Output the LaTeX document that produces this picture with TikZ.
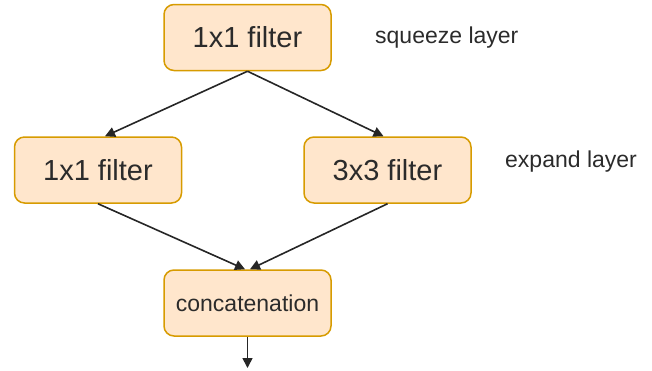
\documentclass[tikz,border=0pt]{standalone}
\usepackage{fontspec}
\setmainfont{Liberation Sans}
\usetikzlibrary{arrows.meta}
\definecolor{boxfill}{HTML}{FFE6CC}
\definecolor{boxline}{HTML}{D79B00}
\definecolor{txt}{HTML}{2B2B2B}
\tikzset{
  filterbox/.style={draw=boxline, fill=boxfill, line width=1.5pt, rounded corners=10pt,
    minimum width=167pt, minimum height=66pt, inner sep=0pt, text=txt,
    font=\fontsize{29}{33}\selectfont},
  smallbox/.style={filterbox, font=\fontsize{23}{27}\selectfont},
  layerlabel/.style={text=txt, font=\fontsize{23}{27}\selectfont, inner sep=0pt, anchor=west},
  conn/.style={line width=1.6pt, draw=black!85, -{Triangle[length=10pt,width=10pt]}}
}
\begin{document}
\begin{tikzpicture}[x=1pt,y=-1pt]
\useasboundingbox (0,0) rectangle (652,370);
\node[filterbox] (sq) at (247.5,37.5) {1x1 filter};
\node[filterbox] (e1) at (98,170) {1x1 filter};
\node[filterbox] (e3) at (387.5,170) {3x3 filter};
\node[smallbox] (cc) at (247.5,303) {concatenation};
\coordinate (out) at (247.5,368);
\node[layerlabel] (sql) at (375,38) {squeeze layer};
\node[layerlabel] (exl) at (505,162) {expand layer};
\draw[conn] (sq.south) -- ([xshift=7pt]e1.north);
\draw[conn] (sq.south) -- ([xshift=-4pt]e3.north);
\draw[conn] (e1.south) -- ([xshift=-2.5pt]cc.north);
\draw[conn] (e3.south) -- ([xshift=2.5pt]cc.north);
\draw[conn] (cc.south) -- (out);
\end{tikzpicture}
\end{document}
